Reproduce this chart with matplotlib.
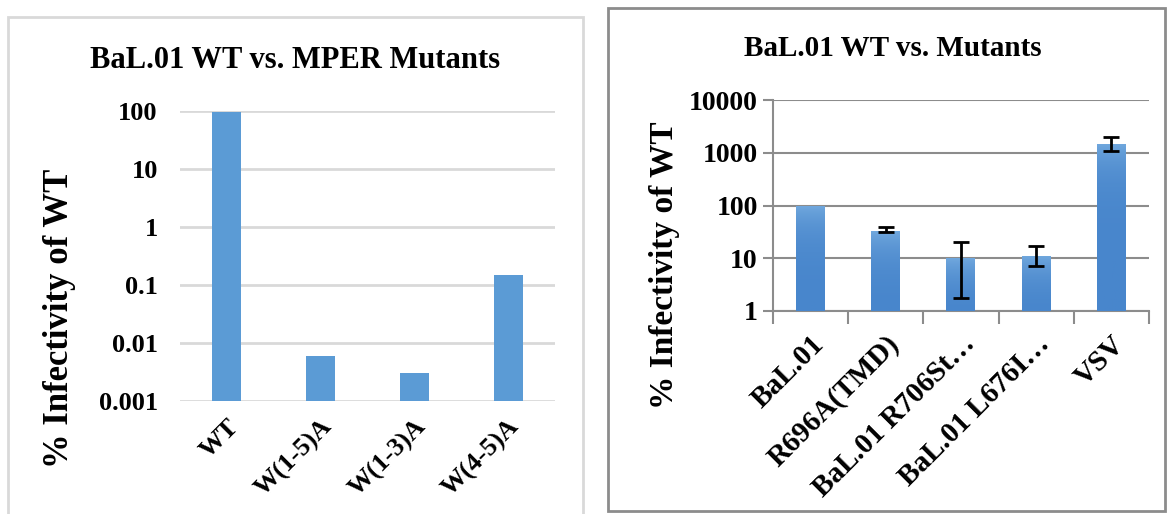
"""
two log-scale bar charts: BaL.01 WT vs. MPER mutants, and vs. other mutants
"""

import numpy as np
import matplotlib
matplotlib.use('Agg')
from matplotlib import pyplot as plt
from matplotlib.patches import Rectangle
from matplotlib.colors import LinearSegmentedColormap

plt.rcParams['font.family'] = ['Liberation Serif', 'DejaVu Serif']
plt.rcParams['font.weight'] = 'bold'

# left chart
mper_labels = ['WT', 'W(1-5)A', 'W(1-3)A', 'W(4-5)A']
mper_values = [95, 0.006, 0.003, 0.15]

# right chart
mut_labels = ['BaL.01', 'R696A(TMD)', 'BaL.01 R706St\u2026', 'BaL.01 L676I\u2026', 'VSV']
mut_values = [100, 33, 10.2, 11.4, 1500]
mut_err_low = [0, 2, 8.4, 4.4, 420]
mut_err_high = [0, 6, 10.2, 5.4, 520]

W, H = 1169, 514
fig = plt.figure(figsize=(W / 100, H / 100), dpi=100)

# panel frames
fig.add_artist(Rectangle((8 / W, -0.05), 575 / W, 1.05 - 17 / H, transform=fig.transFigure,
                         fill=False, ec='#d9d9d9', lw=2))
fig.add_artist(Rectangle((608 / W, 3 / H), 557 / W, 503 / H, transform=fig.transFigure,
                         fill=False, ec='#8c8c8c', lw=2))

# ---- left: MPER mutants ----
ax1 = fig.add_axes([180 / W, 1 - 401 / H, 375 / W, 290 / H])
x1 = np.arange(len(mper_labels))
ax1.bar(x1, mper_values, width=0.31, color='#5b9bd5', zorder=3)
ax1.set_yscale('log')
ax1.set_ylim(0.001, 100)
ax1.set_xlim(-0.5, len(mper_labels) - 0.5)
ax1.set_yticks([0.001, 0.01, 0.1, 1, 10, 100])
ax1.set_yticklabels(['0.001', '0.01', '0.1', '1', '10', '100'])
ax1.minorticks_off()
ax1.yaxis.grid(True, color='#d9d9d9', lw=2)
ax1.set_axisbelow(True)
for s in ax1.spines.values():
    s.set_visible(False)
ax1.tick_params(axis='y', length=0, labelsize=19, pad=16)
ax1.set_xticks(x1)
ax1.set_xticklabels(mper_labels, rotation=45, ha='right', rotation_mode='anchor')
ax1.tick_params(axis='x', length=0, labelsize=19, pad=10)
fig.text(295 / W, 1 - 60 / H, 'BaL.01 WT vs. MPER Mutants', ha='center', va='center',
         fontsize=22, fontweight='bold')
fig.text(60 / W, 1 - 318 / H, '% Infectivity of WT', ha='center', va='center',
         rotation=90, fontsize=25, fontweight='bold')

# ---- right: other mutants ----
ax2 = fig.add_axes([773 / W, 1 - 311 / H, 376 / W, 211 / H])
x2 = np.arange(len(mut_labels))
bars = ax2.bar(x2, mut_values, width=0.39, color='none', zorder=3)
ax2.set_yscale('log')

# vertical gradient fill for each bar
grad = LinearSegmentedColormap.from_list('bluegrad', ['#4886cc', '#72a9de'])
for b, v in zip(bars, mut_values):
    x0 = b.get_x()
    im = ax2.imshow(np.linspace(0, 1, 100).reshape(-1, 1), cmap=grad, origin='lower',
                    extent=[x0, x0 + b.get_width(), 1, v], aspect='auto', zorder=3)
ax2.set_aspect('auto')
ax2.set_xlim(-0.5, len(mut_labels) - 0.5)
ax2.set_ylim(1, 10000)

ax2.errorbar(x2[1:], mut_values[1:], yerr=[mut_err_low[1:], mut_err_high[1:]], fmt='none',
             ecolor='black', elinewidth=2, capsize=6, capthick=2, zorder=4)

ax2.set_yticks([1, 10, 100, 1000, 10000])
ax2.set_yticklabels(['1', '10', '100', '1000', '10000'])
ax2.minorticks_off()
ax2.yaxis.grid(True, color='#8c8c8c', lw=1.5)
ax2.set_axisbelow(True)
for k in ['top', 'right']:
    ax2.spines[k].set_visible(False)
for k in ['left', 'bottom']:
    ax2.spines[k].set_color('#8c8c8c')
    ax2.spines[k].set_linewidth(1.5)
ax2.tick_params(axis='y', length=7, width=1.5, color='#8c8c8c', labelsize=20, pad=4)
ax2.set_xticks(np.arange(len(mut_labels) + 1) - 0.5, minor=True)
ax2.tick_params(axis='x', which='minor', length=9, width=1.5, color='#8c8c8c', direction='out')
ax2.set_xticks(x2)
ax2.set_xticklabels(mut_labels, rotation=45, ha='right', rotation_mode='anchor')
ax2.tick_params(axis='x', which='major', length=0, labelsize=21, pad=14)
fig.text(893 / W, 1 - 48 / H, 'BaL.01 WT vs. Mutants', ha='center', va='center',
         fontsize=21, fontweight='bold')
fig.text(664 / W, 1 - 265 / H, '% Infectivity of WT', ha='center', va='center',
         rotation=90, fontsize=24, fontweight='bold')

plt.savefig('out.png', dpi=100)
